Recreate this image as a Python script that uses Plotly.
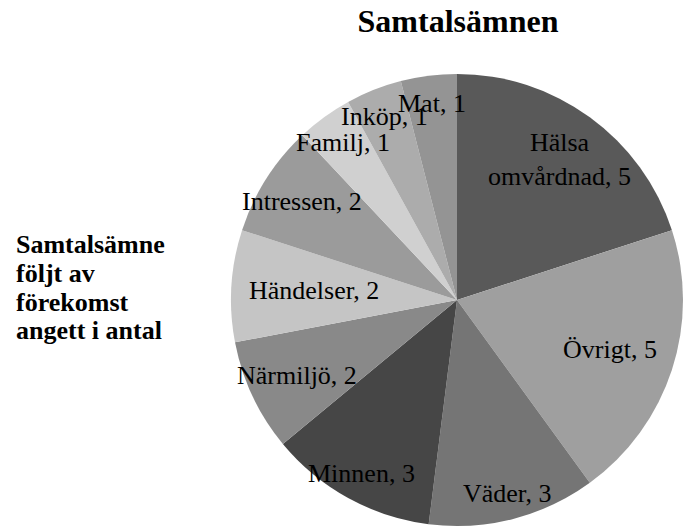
import math
import plotly.graph_objects as go

# ---- data ----
categories = ["Hälsa omvårdnad", "Övrigt", "Väder", "Minnen", "Närmiljö",
              "Händelser", "Intressen", "Familj", "Inköp", "Mat"]
counts = [5, 5, 3, 3, 2, 2, 2, 1, 1, 1]
title_text = "Samtalsämnen"
side_lines = ["Samtalsämne", "följt av", "förekomst", "angett i antal"]

# ---- style ----
colors = ["#595959", "#9f9f9f", "#757575", "#464646", "#898989",
          "#c5c5c5", "#9b9b9b", "#d0d0d0", "#acacac", "#949494"]
label_r = [0.77, 0.71, 0.885, 0.875, 0.78, 0.635, 0.81, 0.86, 0.875, 0.875]
wrap = {"Hälsa omvårdnad": "Hälsa<br>omvårdnad"}
SERIF = "Liberation Serif, Times New Roman, serif"

W, H = 683, 530


def fx(px):
    return px / W


def fy(py):
    return 1 - py / H


# pie: centre ~(459, 300), radius 226 in page pixels (right edge touches the page edge)
PR = 226
PCY = 300
dom_x = [1.0 - 2 * PR / W, 1.0]
dom_y = [fy(PCY + PR), fy(PCY - PR)]

fig = go.Figure(go.Pie(
    labels=categories, values=counts, sort=False, direction="clockwise",
    rotation=0, marker=dict(colors=colors, line=dict(width=0)),
    textinfo="none", hoverinfo="label+value", showlegend=False,
    domain=dict(x=dom_x, y=dom_y),
))

wpx = (dom_x[1] - dom_x[0]) * W
hpx = (dom_y[1] - dom_y[0]) * H
R = min(wpx, hpx) / 2
cx = (dom_x[0] + dom_x[1]) / 2 * W
cy = (1 - (dom_y[0] + dom_y[1]) / 2) * H

total = sum(counts)
cum = 0
annotations = []
for name, v, rf in zip(categories, counts, label_r):
    mid = (cum + v / 2) / total * 2 * math.pi
    cum += v
    px = cx + rf * R * math.sin(mid)
    py = cy - rf * R * math.cos(mid)
    annotations.append(dict(
        x=fx(px), y=fy(py), xref="paper", yref="paper",
        text=f"{wrap.get(name, name)}, {v}", showarrow=False,
        xanchor="center", yanchor="middle",
        font=dict(family=SERIF, size=26, color="#000000"),
    ))

side_y = [244, 273, 302, 330]
for line, y in zip(side_lines, side_y):
    annotations.append(dict(
        x=fx(14), y=fy(y), xref="paper", yref="paper", text=f"<b>{line}</b>",
        showarrow=False, xanchor="left", yanchor="middle",
        font=dict(family=SERIF, size=26, color="#000000"),
    ))

fig.update_layout(
    width=W, height=H, margin=dict(l=0, r=0, t=0, b=0),
    paper_bgcolor="white", plot_bgcolor="white",
    title=dict(text=f"<b>{title_text}</b>", x=fx(458), xanchor="center",
               y=fy(21), yanchor="middle", yref="container",
               font=dict(family=SERIF, size=32, color="#000000")),
    annotations=annotations,
)

# remove the browser's default 8px body margin so the figure fills the window
fig.write_html("out.html", config={"displayModeBar": False},
               post_script="document.body.style.margin='0px';")
